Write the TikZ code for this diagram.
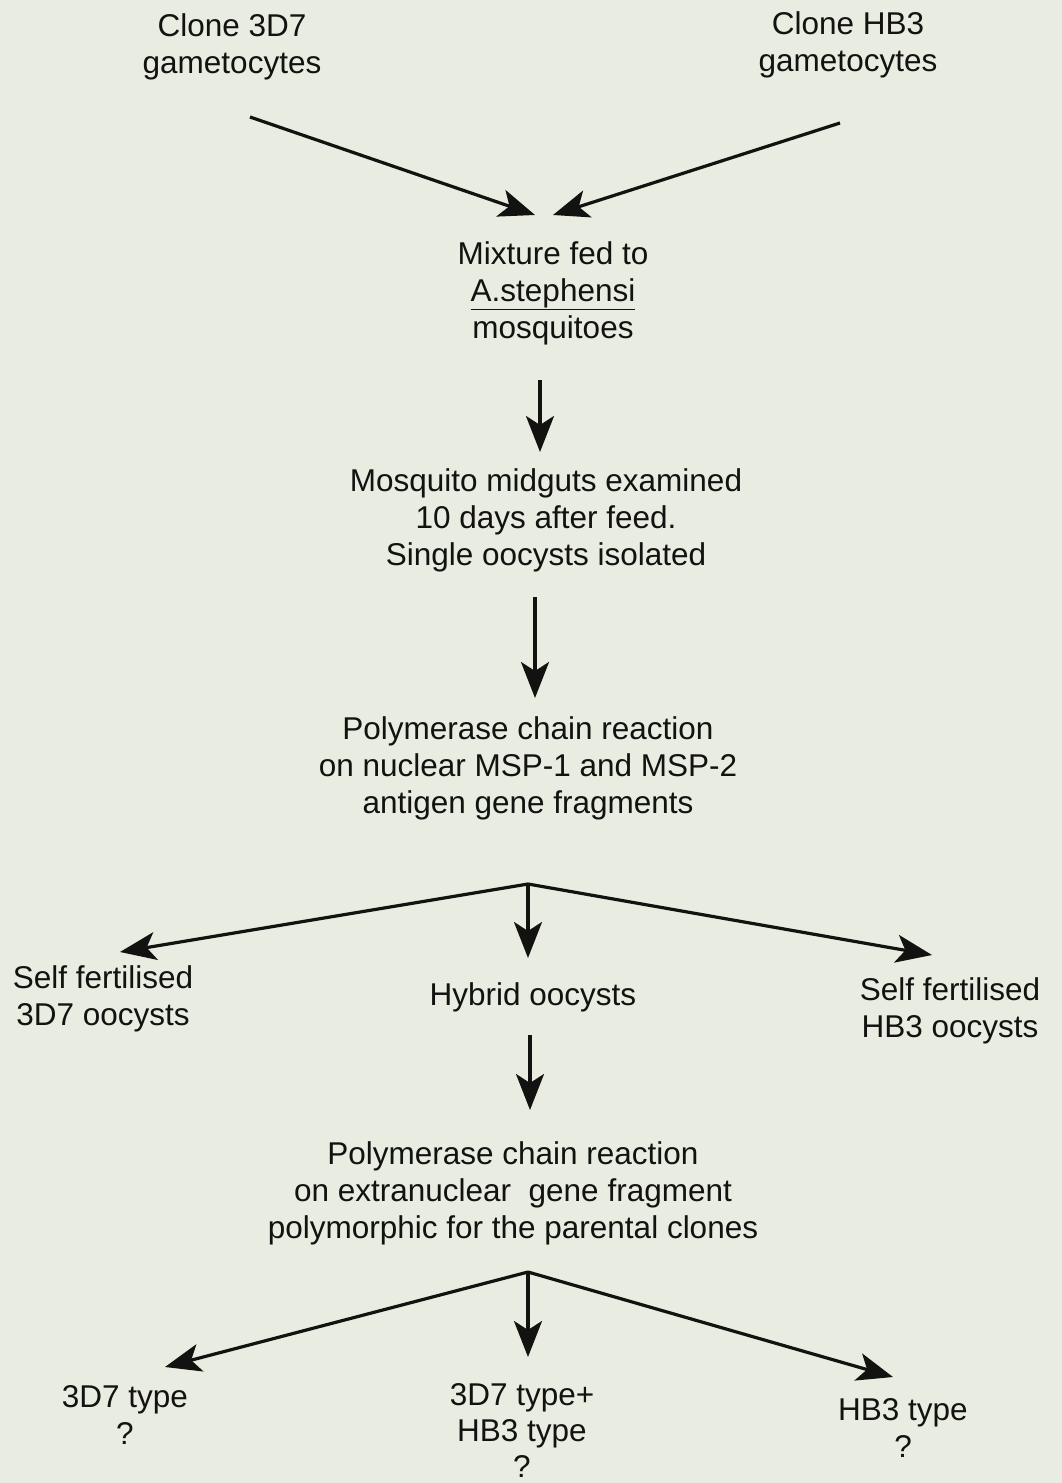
\documentclass[tikz,border=0pt]{standalone}
\usepackage{fontspec}
\setmainfont{Liberation Sans}
\usetikzlibrary{arrows.meta}
\definecolor{paper}{RGB}{233,236,224}
\definecolor{ink}{RGB}{18,18,16}
\tikzset{
  txt/.style={align=center, inner sep=0pt, text=ink, font=\fontsize{31.5}{37}\selectfont},
  conn/.style={draw=ink, line width=3.2pt, -{Stealth[length=36pt,width=28pt,inset=9pt]}},
}
\begin{document}
\begin{tikzpicture}[x=1pt,y=-1pt]
\fill[paper] (0,0) rectangle (1062,1483);
\useasboundingbox (0,0) rectangle (1062,1483);

\node[txt] (c3d7) at (232,47) {Clone 3D7\\gametocytes};
\node[txt] (chb3) at (848,45) {Clone HB3\\gametocytes};
\node[txt] (mix) at (553,293) {Mixture fed to\\\underline{A.stephensi}\\mosquitoes};
\node[txt] (mid) at (546,520) {Mosquito midguts examined\\10 days after feed.\\Single oocysts isolated};
\node[txt] (pcr1) at (528,768) {Polymerase chain reaction\\on nuclear MSP-1 and MSP-2\\antigen gene fragments};
\node[txt] (s3d7) at (103,999) {Self fertilised\\3D7 oocysts};
\node[txt] (hyb) at (533,997) {Hybrid oocysts};
\node[txt] (shb3) at (950,1011) {Self fertilised\\HB3 oocysts};
\node[txt] (pcr2) at (513,1193) {Polymerase chain reaction\\on extranuclear\ \ gene fragment\\polymorphic for the parental clones};
\node[txt] (t3d7) at (125,1415) {3D7 type\\?};
\node[txt, font=\fontsize{31.5}{36}\selectfont] (tboth) at (522,1430) {3D7 type+\\HB3 type\\?};
\node[txt] (thb3) at (903,1428) {HB3 type\\?};

\coordinate (a1s) at (250,117);
\coordinate (a1e) at (535,215);
\coordinate (a2s) at (840,123);
\coordinate (a2e) at (553,215);
\coordinate (a3s) at (540,380);
\coordinate (a3e) at (540,452);
\coordinate (a4s) at (535,597);
\coordinate (a4e) at (535,698);
\coordinate (b1) at (528,884);
\coordinate (b1l) at (120,952);
\coordinate (b1m) at (528,958);
\coordinate (b1r) at (932,955);
\coordinate (a5s) at (530,1035);
\coordinate (a5e) at (530,1110);
\coordinate (b2) at (528,1272);
\coordinate (b2l) at (165,1367);
\coordinate (b2m) at (528,1357);
\coordinate (b2r) at (893,1377);

\draw[conn] (a1s) -- (a1e);
\draw[conn] (a2s) -- (a2e);
\draw[conn] (a3s) -- (a3e);
\draw[conn] (a4s) -- (a4e);
\draw[conn] (b1) -- (b1l);
\draw[conn] (b1) -- (b1m);
\draw[conn] (b1) -- (b1r);
\draw[conn] (a5s) -- (a5e);
\draw[conn] (b2) -- (b2l);
\draw[conn] (b2) -- (b2m);
\draw[conn] (b2) -- (b2r);
\end{tikzpicture}
\end{document}
